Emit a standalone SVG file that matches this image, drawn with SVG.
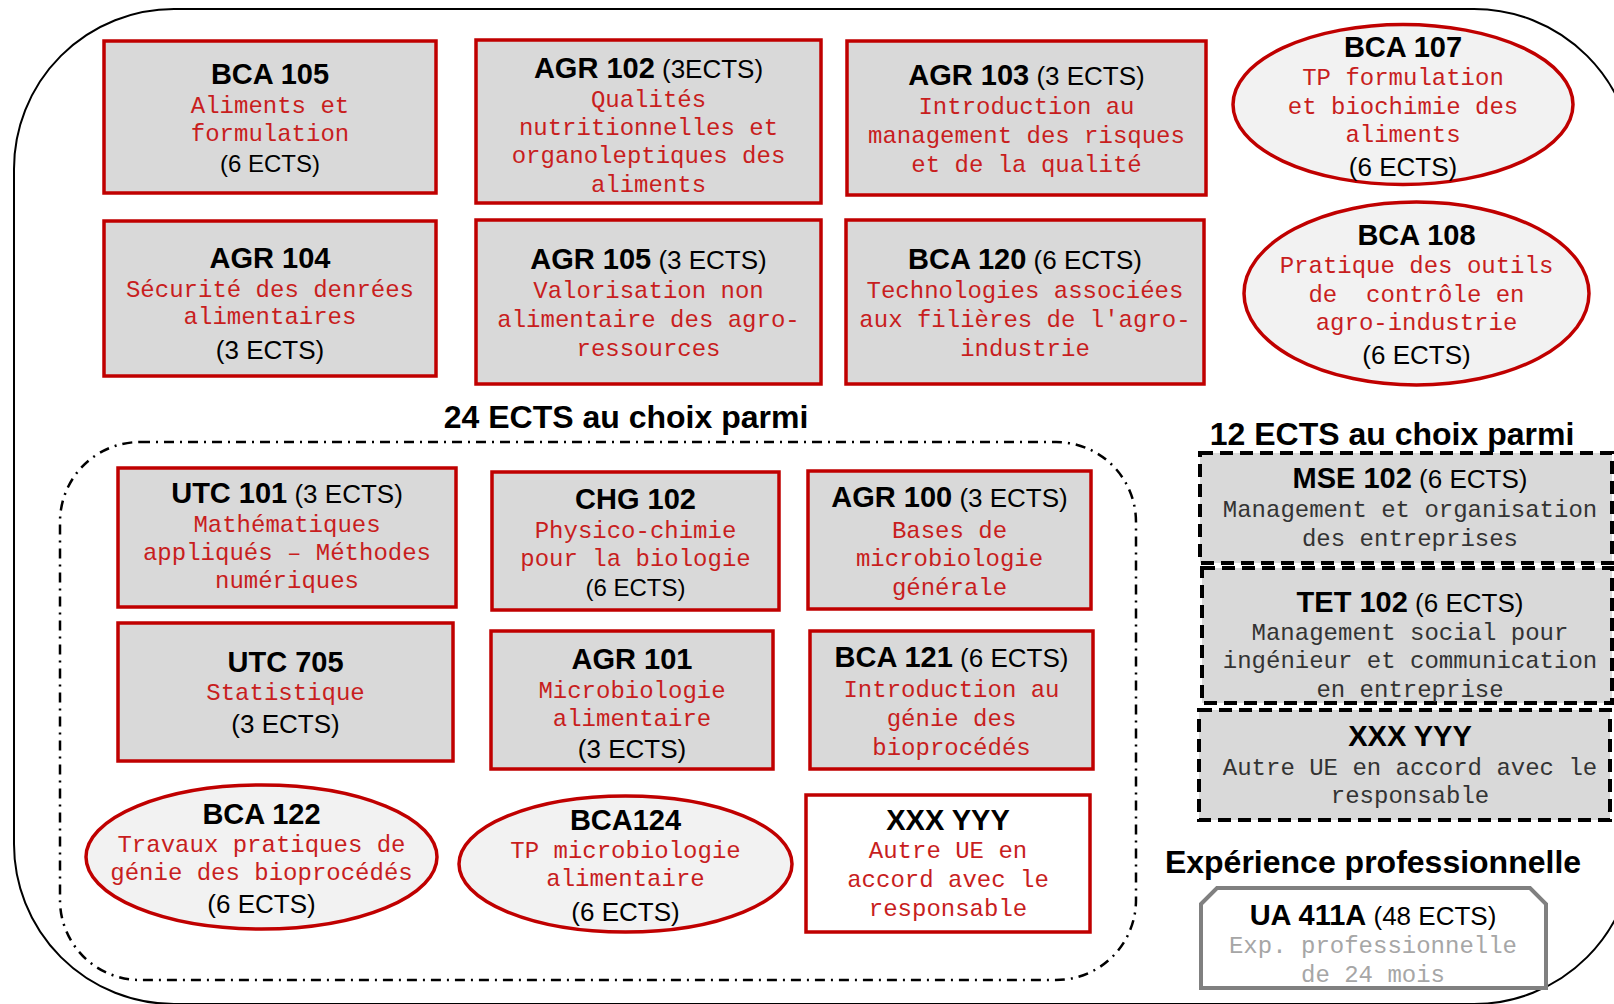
<svg xmlns="http://www.w3.org/2000/svg" width="1614" height="1004" viewBox="0 0 1614 1004">
<style>
.box{fill:#d9d9d9;stroke:#c00000;stroke-width:3.5}
.wbox{fill:#ffffff;stroke:#c00000;stroke-width:3.5}
.ell{fill:#f2f2f2;stroke:#c00000;stroke-width:3.5}
.dbox{fill:#d9d9d9;stroke:#000;stroke-width:4;stroke-dasharray:13 7}
.t{font-family:"Liberation Sans",Arial,sans-serif;font-size:29px;font-weight:bold;text-anchor:middle;fill:#000}
.p{font-weight:normal;font-size:26px}
.e{font-family:"Liberation Sans",Arial,sans-serif;font-size:26px;text-anchor:middle;fill:#000}
.m{font-family:"Liberation Mono","Courier New",monospace;font-size:24px;text-anchor:middle;fill:#c81e1e}
.k{fill:#333333}
.g{fill:#a6a6a6}
.lbl{font-family:"Liberation Sans",Arial,sans-serif;font-size:32px;font-weight:bold;text-anchor:middle;fill:#000}
</style>
<rect x="14" y="9" width="1620" height="995" rx="160" ry="160" fill="none" stroke="#000" stroke-width="2"/>
<rect x="60" y="442" width="1076" height="538" rx="80" ry="80" fill="none" stroke="#000" stroke-width="2.5" stroke-dasharray="10 6 2 6"/>
<g id="connectors"/>
<g id="labels">
<text class="lbl" x="626" y="428">24 ECTS au choix parmi</text>
<text class="lbl" x="1392" y="445">12 ECTS au choix parmi</text>
<text class="lbl" x="1373" y="873">Expérience professionnelle</text>
</g>
<g id="bca105">
<rect class="box" x="104" y="41" width="332" height="152"/>
<text class="t" x="270" y="84">BCA 105</text>
<text class="m" x="270" y="113">Aliments et</text>
<text class="m" x="270" y="141">formulation</text>
<text class="e" x="270" y="172" style="font-size:24px">(6 ECTS)</text>
</g>
<g id="agr102">
<rect class="box" x="476" y="40" width="345" height="163"/>
<text class="t" x="648.5" y="78">AGR 102<tspan class="p"> (3ECTS)</tspan></text>
<text class="m" x="648.5" y="107">Qualités</text>
<text class="m" x="648.5" y="135">nutritionnelles et</text>
<text class="m" x="648.5" y="163">organoleptiques des</text>
<text class="m" x="648.5" y="192">aliments</text>
</g>
<g id="agr103">
<rect class="box" x="847" y="41" width="359" height="154"/>
<text class="t" x="1026.5" y="85">AGR 103<tspan class="p"> (3 ECTS)</tspan></text>
<text class="m" x="1026.5" y="114">Introduction au</text>
<text class="m" x="1026.5" y="143">management des risques</text>
<text class="m" x="1026.5" y="172">et de la qualité</text>
</g>
<g id="bca107">
<ellipse class="ell" cx="1403" cy="104.5" rx="170" ry="80"/>
<text class="t" x="1403" y="57">BCA 107</text>
<text class="m" x="1403" y="85">TP formulation</text>
<text class="m" x="1403" y="114">et biochimie des</text>
<text class="m" x="1403" y="142">aliments</text>
<text class="e" x="1403" y="176">(6 ECTS)</text>
</g>
<g id="agr104">
<rect class="box" x="104" y="221" width="332" height="155"/>
<text class="t" x="270" y="268">AGR 104</text>
<text class="m" x="270" y="297">Sécurité des denrées</text>
<text class="m" x="270" y="324">alimentaires</text>
<text class="e" x="270" y="359">(3 ECTS)</text>
</g>
<g id="agr105">
<rect class="box" x="476" y="220" width="345" height="164"/>
<text class="t" x="648.5" y="269">AGR 105<tspan class="p"> (3 ECTS)</tspan></text>
<text class="m" x="648.5" y="298">Valorisation non</text>
<text class="m" x="648.5" y="327">alimentaire des agro-</text>
<text class="m" x="648.5" y="356">ressources</text>
</g>
<g id="bca120">
<rect class="box" x="846" y="220" width="358" height="164"/>
<text class="t" x="1025" y="269">BCA 120<tspan class="p"> (6 ECTS)</tspan></text>
<text class="m" x="1025" y="298">Technologies associées</text>
<text class="m" x="1025" y="327">aux filières de l'agro-</text>
<text class="m" x="1025" y="356">industrie</text>
</g>
<g id="bca108">
<ellipse class="ell" cx="1416.5" cy="293.5" rx="172.5" ry="91.5"/>
<text class="t" x="1416.5" y="245">BCA 108</text>
<text class="m" x="1416.5" y="273">Pratique des outils</text>
<text class="m" x="1416.5" y="302" xml:space="preserve">de  contrôle en</text>
<text class="m" x="1416.5" y="330">agro-industrie</text>
<text class="e" x="1416.5" y="364">(6 ECTS)</text>
</g>
<g id="utc101">
<rect class="box" x="118" y="468" width="338" height="139"/>
<text class="t" x="287" y="503">UTC 101<tspan class="p"> (3 ECTS)</tspan></text>
<text class="m" x="287" y="532">Mathématiques</text>
<text class="m" x="287" y="560">appliqués – Méthodes</text>
<text class="m" x="287" y="588">numériques</text>
</g>
<g id="chg102">
<rect class="box" x="492" y="472" width="287" height="138"/>
<text class="t" x="635.5" y="509">CHG 102</text>
<text class="m" x="635.5" y="538">Physico-chimie</text>
<text class="m" x="635.5" y="566">pour la biologie</text>
<text class="e" x="635.5" y="596" style="font-size:24px">(6 ECTS)</text>
</g>
<g id="agr100">
<rect class="box" x="808" y="471" width="283" height="138"/>
<text class="t" x="949.5" y="507">AGR 100<tspan class="p"> (3 ECTS)</tspan></text>
<text class="m" x="949.5" y="538">Bases de</text>
<text class="m" x="949.5" y="566">microbiologie</text>
<text class="m" x="949.5" y="595">générale</text>
</g>
<g id="utc705">
<rect class="box" x="118" y="623" width="335" height="138"/>
<text class="t" x="285.5" y="672">UTC 705</text>
<text class="m" x="285.5" y="700">Statistique</text>
<text class="e" x="285.5" y="733">(3 ECTS)</text>
</g>
<g id="agr101">
<rect class="box" x="491" y="631" width="282" height="138"/>
<text class="t" x="632" y="669">AGR 101</text>
<text class="m" x="632" y="698">Microbiologie</text>
<text class="m" x="632" y="726">alimentaire</text>
<text class="e" x="632" y="758">(3 ECTS)</text>
</g>
<g id="bca121">
<rect class="box" x="810" y="631" width="283" height="138"/>
<text class="t" x="951.5" y="667">BCA 121<tspan class="p"> (6 ECTS)</tspan></text>
<text class="m" x="951.5" y="697">Introduction au</text>
<text class="m" x="951.5" y="726">génie des</text>
<text class="m" x="951.5" y="755">bioprocédés</text>
</g>
<g id="bca122">
<ellipse class="ell" cx="261.5" cy="857" rx="175.5" ry="72"/>
<text class="t" x="261.5" y="824">BCA 122</text>
<text class="m" x="261.5" y="852">Travaux pratiques de</text>
<text class="m" x="261.5" y="880">génie des bioprocédés</text>
<text class="e" x="261.5" y="913">(6 ECTS)</text>
</g>
<g id="bca124">
<ellipse class="ell" cx="625.5" cy="864" rx="166.5" ry="68"/>
<text class="t" x="625.5" y="830">BCA124</text>
<text class="m" x="625.5" y="858">TP microbiologie</text>
<text class="m" x="625.5" y="886">alimentaire</text>
<text class="e" x="625.5" y="921">(6 ECTS)</text>
</g>
<g id="xxxyyy-red">
<rect class="wbox" x="806" y="795" width="284" height="137"/>
<text class="t" x="948" y="830">XXX YYY</text>
<text class="m" x="948" y="858">Autre UE en</text>
<text class="m" x="948" y="887">accord avec le</text>
<text class="m" x="948" y="916">responsable</text>
</g>
<g id="mse102">
<rect class="dbox" x="1200" y="453" width="412" height="110"/>
<text class="t" x="1410" y="488">MSE 102<tspan class="p"> (6 ECTS)</tspan></text>
<text class="m k" x="1410" y="517">Management et organisation</text>
<text class="m k" x="1410" y="546">des entreprises</text>
</g>
<g id="tet102">
<rect class="dbox" x="1202" y="568" width="410" height="135"/>
<text class="t" x="1410" y="612">TET 102<tspan class="p"> (6 ECTS)</tspan></text>
<text class="m k" x="1410" y="640">Management social pour</text>
<text class="m k" x="1410" y="668">ingénieur et communication</text>
<text class="m k" x="1410" y="697">en entreprise</text>
</g>
<g id="xxxyyy-dashed">
<rect class="dbox" x="1199" y="710" width="411" height="110"/>
<text class="t" x="1410" y="746">XXX YYY</text>
<text class="m k" x="1410" y="775">Autre UE en accord avec le</text>
<text class="m k" x="1410" y="803">responsable</text>
</g>
<g id="ua411a">
<polygon points="1201,904 1217,888 1530,888 1546,904 1546,988 1201,988" fill="#fff" stroke="#808080" stroke-width="4"/>
<text class="t" x="1373" y="925">UA 411A<tspan class="p"> (48 ECTS)</tspan></text>
<text class="m g" x="1373" y="953">Exp. professionnelle</text>
<text class="m g" x="1373" y="982">de 24 mois</text>
</g>
</svg>
